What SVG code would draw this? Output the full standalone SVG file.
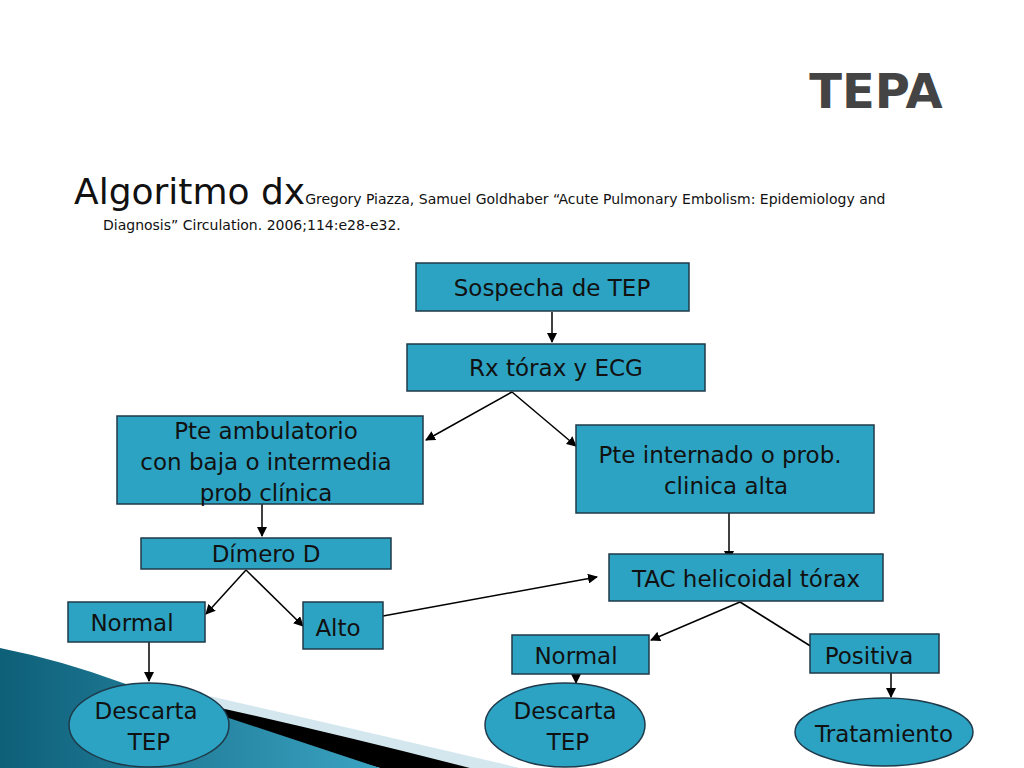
<svg xmlns="http://www.w3.org/2000/svg" width="1024" height="768" viewBox="0 0 1024 768">
<defs>
<style>
.b{fill:#2da3c3;stroke:#1f3a4a;stroke-width:1.5}
.t{font-family:"DejaVu Sans",sans-serif;font-size:23px;fill:#111;text-anchor:middle}
.c{stroke:#000;stroke-width:1.5;fill:none;marker-end:url(#a)}
</style>
<marker id="a" markerWidth="10" markerHeight="10" refX="9" refY="5" orient="auto" markerUnits="userSpaceOnUse"><path d="M0,0 L10,5 L0,10 Z" fill="#000"/></marker>
<linearGradient id="g" x1="0" y1="0" x2="1" y2="0"><stop offset="0" stop-color="#0e5f78"/><stop offset="1" stop-color="#3aa3c2"/></linearGradient>
</defs>
<rect width="1024" height="768" fill="#fff"/>
<g id="deco">
<path d="M200,694 Q360,730 520,768 L470,768 L220,712 Z" fill="#d4e7ef"/>
<path d="M70,676 Q250,712 470,768 L380,768 L100,690 Z" fill="#000"/>
<path d="M0,648 Q60,660 120,682 L380,768 L0,768 Z" fill="url(#g)"/>
</g>
<text x="876" y="108" font-family="DejaVu Sans,sans-serif" font-size="48" fill="#444" text-anchor="middle" font-weight="bold">TEPA</text>
<text x="74" y="204" font-family="DejaVu Sans,sans-serif" font-size="36" fill="#111">Algoritmo dx<tspan font-size="14">Gregory Piazza, Samuel Goldhaber “Acute Pulmonary Embolism: Epidemiology and</tspan></text>
<text x="103" y="230" font-family="DejaVu Sans,sans-serif" font-size="14" fill="#111">Diagnosis” Circulation. 2006;114:e28-e32.</text>
<g id="connectors">
<line class="c" x1="552" y1="312" x2="552" y2="342"/>
<line class="c" x1="512" y1="392" x2="426" y2="440"/>
<line class="c" x1="512" y1="392" x2="576" y2="446"/>
<line class="c" x1="262" y1="504" x2="262" y2="536"/>
<line class="c" x1="729" y1="513" x2="729" y2="560"/>
<line class="c" x1="246" y1="570" x2="206" y2="614"/>
<line class="c" x1="246" y1="570" x2="303" y2="626"/>
<line class="c" x1="383" y1="616" x2="597" y2="577"/>
<line class="c" x1="740" y1="602" x2="651" y2="640"/>
<line class="c" x1="740" y1="602" x2="820" y2="652"/>
<line class="c" x1="149" y1="642" x2="149" y2="681"/>
<line class="c" x1="576" y1="674" x2="576" y2="683"/>
<line class="c" x1="891" y1="673" x2="891" y2="697"/>
</g>
<g id="n1"><rect class="b" x="416" y="263" width="273" height="48"/><text class="t" x="552" y="296">Sospecha de TEP</text></g>
<g id="n2"><rect class="b" x="407" y="344" width="298" height="47"/><text class="t" x="556" y="376">Rx tórax y ECG</text></g>
<g id="n3"><rect class="b" x="117" y="416" width="306" height="88"/><text class="t" x="266" y="439">Pte ambulatorio</text><text class="t" x="266" y="470">con baja o intermedia</text><text class="t" x="266" y="501">prob clínica</text></g>
<g id="n4"><rect class="b" x="576" y="425" width="298" height="88"/><text class="t" x="720" y="463">Pte internado o prob.</text><text class="t" x="726" y="494">clinica alta</text></g>
<g id="n5"><rect class="b" x="141" y="538" width="250" height="31"/><text class="t" x="266" y="562">Dímero D</text></g>
<g id="n6"><rect class="b" x="609" y="554" width="274" height="47"/><text class="t" x="746" y="587">TAC helicoidal tórax</text></g>
<g id="n7"><rect class="b" x="68" y="602" width="137" height="40"/><text class="t" x="132" y="631">Normal</text></g>
<g id="n8"><rect class="b" x="303" y="602" width="80" height="47"/><text class="t" x="338" y="636">Alto</text></g>
<g id="n9"><rect class="b" x="512" y="635" width="137" height="39"/><text class="t" x="576" y="664">Normal</text></g>
<g id="n10"><rect class="b" x="810" y="634" width="129" height="39"/><text class="t" x="869" y="664">Positiva</text></g>
<g id="n11"><ellipse class="b" cx="149" cy="725" rx="80" ry="42"/><text class="t" x="146" y="719">Descarta</text><text class="t" x="149" y="750">TEP</text></g>
<g id="n12"><ellipse class="b" cx="565" cy="725" rx="80" ry="42"/><text class="t" x="565" y="719">Descarta</text><text class="t" x="568" y="750">TEP</text></g>
<g id="n13"><ellipse class="b" cx="884" cy="732" rx="89" ry="34"/><text class="t" x="884" y="742">Tratamiento</text></g>
</svg>
